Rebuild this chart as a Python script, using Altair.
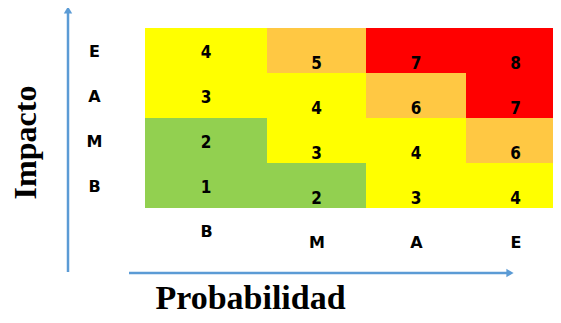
import json
import altair as alt
import pandas as pd

# Probability levels (columns, left to right) and impact levels (rows, bottom to top)
prob_levels = ["B", "M", "A", "E"]
imp_levels = ["B", "M", "A", "E"]

# Risk value of each cell: one list per impact row, values for prob B, M, A, E
row_B = [1, 2, 3, 4]
row_M = [2, 3, 4, 6]
row_A = [3, 4, 6, 7]
row_E = [4, 5, 7, 8]

rows = {"B": row_B, "M": row_M, "A": row_A, "E": row_E}
recs = []
for imp in imp_levels:
    for i, (p, v) in enumerate(zip(prob_levels, rows[imp])):
        recs.append({"imp": imp, "prob": p, "x0": i, "x1": i + 1, "xc": i + 0.5, "value": v})
df = pd.DataFrame(recs)

GREEN, YELLOW, ORANGE, RED = "#92D050", "#FFFF00", "#FFC843", "#FF0000"
BLUE = "#5B9BD5"

xscale = alt.Scale(domain=[0, 1, 2, 3, 4], range=[0, 122, 221, 321, 420], nice=False, zero=False)
yscale = alt.Scale(domain=list(reversed(imp_levels)), paddingInner=0, paddingOuter=0)

xaxis = alt.Axis(
    values=[0.5, 1.5, 2.5, 3.5],
    labelExpr=f"{json.dumps(prob_levels)}[floor(datum.value)]",
    ticks=False, domain=False, grid=False,
    labelFont="DejaVu Sans", labelFontWeight="bold", labelFontSize=16, labelColor="black",
    labelBaseline="top", labelFlush=False, labelOverlap=False,
    labelPadding={"condition": {"test": "datum.value < 1", "value": 15}, "value": 26},
    title="Probabilidad", titleFont="Liberation Serif", titleFontSize=34,
    titleFontWeight="bold", titleColor="black",
    titleX=105, titleY=100, titleBaseline="alphabetic", titleAlign="center",
)
yaxis = alt.Axis(
    ticks=False, domain=False, grid=False,
    labelFont="DejaVu Sans", labelFontWeight="bold", labelFontSize=16, labelColor="black",
    labelAlign="center", labelPadding=51, labelOffset=1,
    title="Impacto", titleFont="Liberation Serif", titleFontSize=32,
    titleFontWeight="bold", titleColor="black", titleAngle=-90,
    titleX=-110, titleY=114, titleBaseline="alphabetic", titleAlign="center",
)

base = alt.Chart(df)

cells = base.mark_rect().encode(
    x=alt.X("x0:Q", scale=xscale, axis=xaxis),
    x2="x1:Q",
    y=alt.Y("imp:O", scale=yscale, axis=yaxis),
    color=alt.Color("value:Q", scale=alt.Scale(type="threshold", domain=[3, 5, 7],
                                               range=[GREEN, YELLOW, ORANGE, RED]), legend=None),
)

txt_kw = dict(font="DejaVu Sans Condensed, Liberation Sans, sans-serif", fontWeight="bold",
              fontSize=17, color="black", baseline="middle", align="center")
text_B = base.transform_filter("datum.prob == 'B'").mark_text(dy=2, **txt_kw).encode(
    x=alt.X("xc:Q", scale=xscale, axis=xaxis),
    y=alt.Y("imp:O", scale=yscale, axis=yaxis),
    text="value:Q",
)
text_rest = base.transform_filter("datum.prob != 'B'").mark_text(dy=13, **txt_kw).encode(
    x=alt.X("xc:Q", scale=xscale, axis=xaxis),
    y=alt.Y("imp:O", scale=yscale, axis=yaxis),
    text="value:Q",
)

one = pd.DataFrame({"a": [0]})
v_rule = alt.Chart(one).mark_rule(color=BLUE, strokeWidth=2.5).encode(
    x=alt.value(-77), y=alt.value(-16), y2=alt.value(244))
v_head = alt.Chart(one).mark_point(shape="triangle-up", filled=True, size=70, color=BLUE, opacity=1).encode(
    x=alt.value(-77), y=alt.value(-18))
h_rule = alt.Chart(one).mark_rule(color=BLUE, strokeWidth=2.5).encode(
    x=alt.value(-16), x2=alt.value(363), y=alt.value(245))
h_head = alt.Chart(one).mark_point(shape="triangle-right", filled=True, size=70, color=BLUE, opacity=1).encode(
    x=alt.value(365), y=alt.value(245))

chart = alt.layer(cells, text_B, text_rest, v_rule, v_head, h_rule, h_head).properties(
    width=408, height=180,
    padding={"left": 137, "top": 20, "right": 0, "bottom": 107},
    autosize=alt.AutoSizeParams(type="none"),
    background="white",
).configure_view(stroke=None)

chart.save("out.html", embed_options={"renderer": "svg", "actions": False})
